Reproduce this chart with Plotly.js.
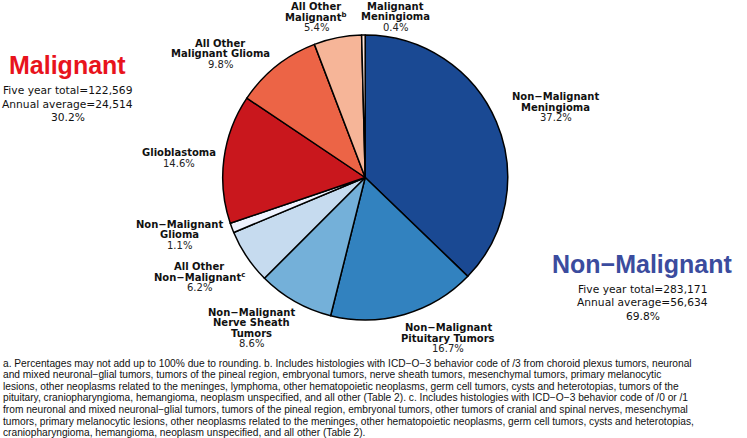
<!DOCTYPE html>
<html>
<head>
<meta charset="utf-8">
<script src="https://cdn.plot.ly/plotly-3.0.1.min.js"></script>
<style>html,body{margin:0;padding:0;background:#fff;overflow:hidden;}#chart{width:747px;height:438px;}</style>
</head>
<body>
<div id="chart"></div>
<script>
// ---- data ----
const categories = ['Non−Malignant Meningioma', 'Non−Malignant Pituitary Tumors', 'Non−Malignant Nerve Sheath Tumors',
  'All Other Non−Malignant', 'Non−Malignant Glioma', 'Glioblastoma', 'All Other Malignant Glioma',
  'All Other Malignant', 'Malignant Meningioma'];
const values = [37.2, 16.7, 8.6, 6.2, 1.1, 14.6, 9.8, 5.4, 0.4];
const colors = ['#1a4993', '#3282bf', '#74b0d9', '#c6dbef', '#eff3ff', '#c9171d', '#ec6446', '#f6b598', '#fee5d9'];
const labelLines = [
  ['Non−Malignant', 'Meningioma'],
  ['Non−Malignant', 'Pituitary Tumors'],
  ['Non−Malignant', 'Nerve Sheath', 'Tumors'],
  ['All Other', 'Non−Malignant<sup>c</sup>'],
  ['Non−Malignant', 'Glioma'],
  ['Glioblastoma'],
  ['All Other', 'Malignant Glioma'],
  ['All Other', 'Malignant<sup>b</sup>'],
  ['Malignant', 'Meningioma']
];
const groupNames = ['Malignant', 'Non−Malignant'];
const groupTotals = ['122,569', '283,171'];
const groupAverages = ['24,514', '56,634'];
const groupPercents = [30.2, 69.8];
const footnote = [
  'a. Percentages may not add up to 100% due to rounding. b. Includes histologies with ICD−O−3 behavior code of /3 from choroid plexus tumors, neuronal',
  'and mixed neuronal−glial tumors, tumors of the pineal region, embryonal tumors, nerve sheath tumors, mesenchymal tumors, primary melanocytic',
  'lesions, other neoplasms related to the meninges, lymphoma, other hematopoietic neoplasms, germ cell tumors, cysts and heterotopias, tumors of the',
  'pituitary, craniopharyngioma, hemangioma, neoplasm unspecified, and all other (Table 2). c. Includes histologies with ICD−O−3 behavior code of /0 or /1',
  'from neuronal and mixed neuronal−glial tumors, tumors of the pineal region, embryonal tumors, other tumors of cranial and spinal nerves, mesenchymal',
  'tumors, primary melanocytic lesions, other neoplasms related to the meninges, other hematopoietic neoplasms, germ cell tumors, cysts and heterotopias,',
  'craniopharyngioma, hemangioma, neoplasm unspecified, and all other (Table 2).'
];

// ---- layout helpers ----
const W = 747, H = 438;
const px = x => x / W, py = y => 1 - y / H;
const cx = 365.2, cy = 177.5, R = 142.5;
const smallFont = 'DejaVu Sans, Arial, sans-serif';
const labelPos = [[555.5, 96.5], [448, 327.5], [252, 312], [199, 266.5], [179, 224], [179, 152.5], [220, 43], [316, 6.5], [395, 6.5]];
const LS = 10.5;

const ann = [];
function addText(text, x, y, font, xanchor) {
  ann.push({text: text, x: px(x), y: py(y), xref: 'paper', yref: 'paper', xanchor: xanchor || 'center', yanchor: 'middle',
    showarrow: false, font: font, borderpad: 0});
}
labelLines.forEach((lines, i) => {
  const [x, y0] = labelPos[i];
  lines.forEach((ln, j) => addText('<b>' + ln + '</b>', x, y0 + j * LS, {family: smallFont, size: 10, color: '#111'}));
  addText(values[i].toFixed(1) + '%', x, y0 + lines.length * LS, {family: smallFont, size: 10, color: '#222'});
});
// group summaries
const groupPos = [[67.5, 65, 90.5], [642.5, 263.5, 289]];
const groupColors = ['#e8131c', '#3b4c9e'];
groupNames.forEach((g, i) => {
  const [x, yt, y1] = groupPos[i];
  addText('<b>' + g + '</b>', x, yt, {family: 'Liberation Sans, Arial, sans-serif', size: 25, color: groupColors[i]});
  addText('Five year total=' + groupTotals[i], x, y1, {family: smallFont, size: 10.7, color: '#111'});
  addText('Annual average=' + groupAverages[i], x, y1 + 13.5, {family: smallFont, size: 10.7, color: '#111'});
  addText(groupPercents[i].toFixed(1) + '%', x, y1 + 27, {family: smallFont, size: 10.7, color: '#111'});
});
footnote.forEach((ln, i) => addText(ln, 2, 363 + i * 11.6, {family: 'Liberation Sans, Arial, sans-serif', size: 10.2, color: '#111'}, 'left'));

const trace = {
  type: 'pie', values: values, labels: categories, sort: false, direction: 'clockwise', rotation: 0,
  marker: {colors: colors, line: {color: '#000', width: 1.5}},
  textinfo: 'none', hoverinfo: 'label+percent', showlegend: false,
  domain: {x: [px(cx - R), px(cx + R)], y: [py(cy + R), py(cy - R)]}
};
Plotly.newPlot('chart', [trace], {
  width: W, height: H, margin: {l: 0, r: 0, t: 0, b: 0, pad: 0}, paper_bgcolor: '#fff', showlegend: false,
  annotations: ann
}, {displayModeBar: false, staticPlot: true});
</script>
</body>
</html>
